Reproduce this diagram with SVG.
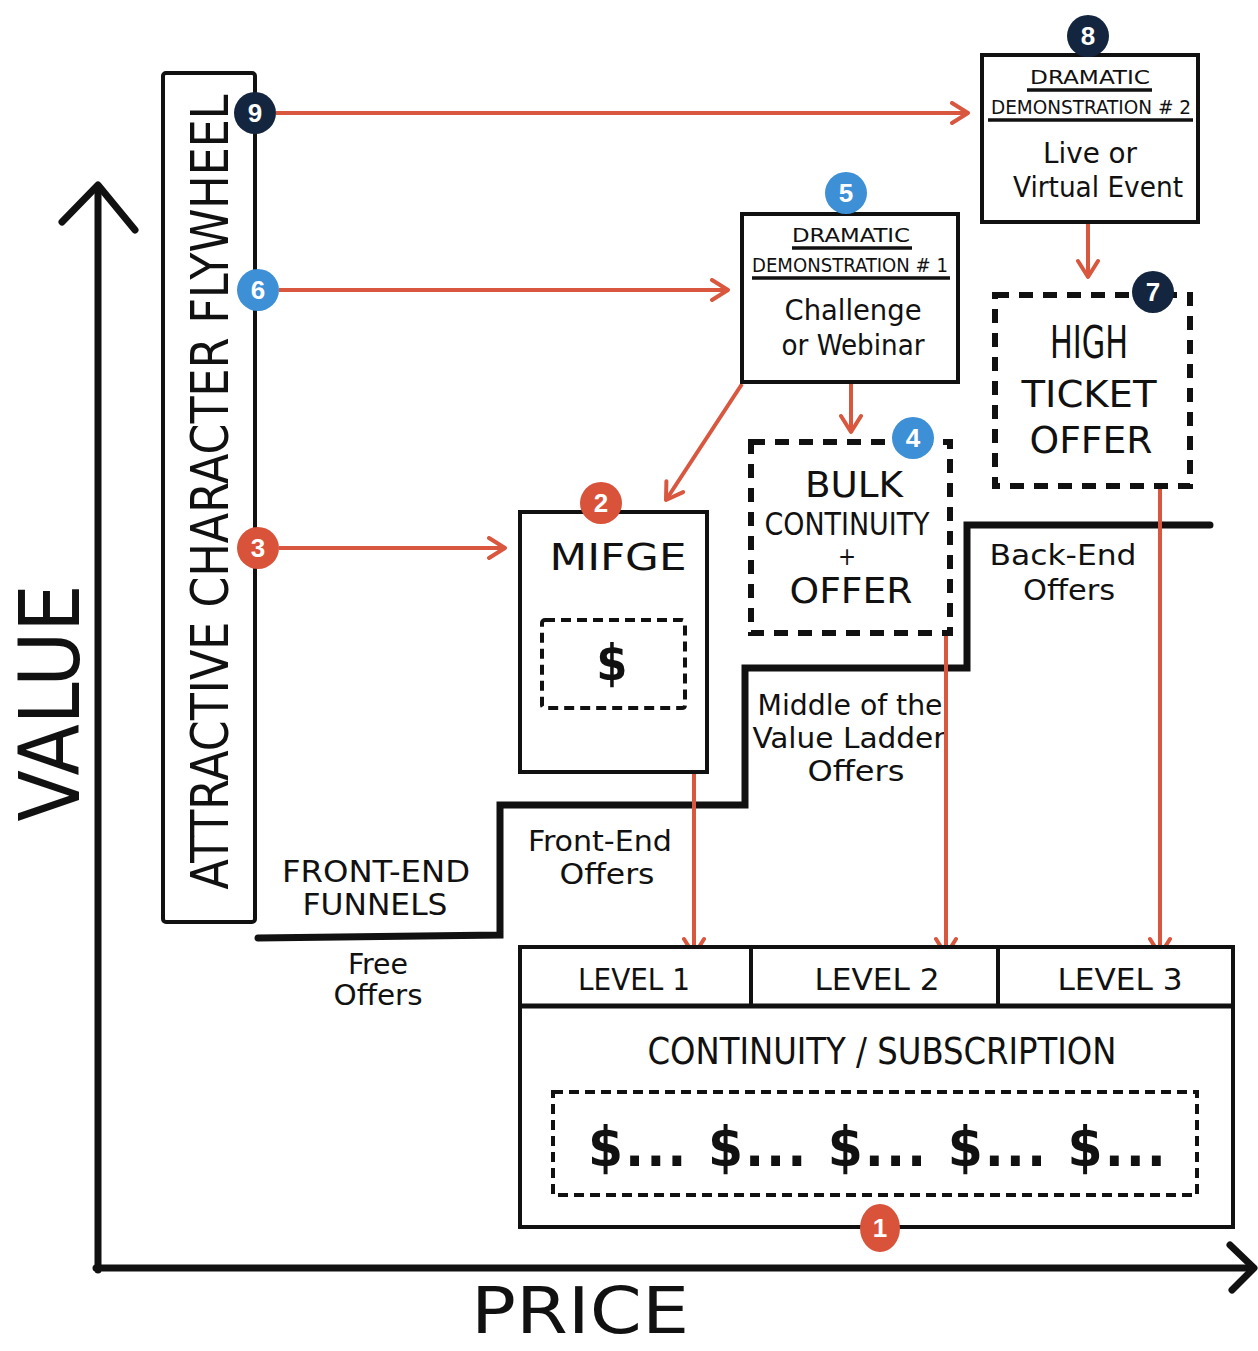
<svg xmlns="http://www.w3.org/2000/svg" width="1258" height="1351" viewBox="0 0 1258 1351">
  <defs>
    <style>
      .box { fill: #ffffff; stroke: #111111; stroke-width: 4; }
      .dash { fill: #ffffff; stroke: #111111; stroke-width: 6; stroke-dasharray: 14 10; }
      .dashsm { fill: none; stroke: #111111; stroke-width: 4; stroke-dasharray: 10 6; }
      .axis { fill: none; stroke: #111111; stroke-width: 7; stroke-linecap: round; stroke-linejoin: round; }
      .stair { fill: none; stroke: #111111; stroke-width: 7; stroke-linecap: round; stroke-linejoin: miter; }
      .link { fill: none; stroke: #d9573e; stroke-width: 4; marker-end: url(#chev); }
      .ul { stroke: #111111; stroke-width: 3.5; }
      .t { font-family: "Liberation Sans Narrow", "DejaVu Sans Condensed", "Liberation Sans", sans-serif; fill: #111111; text-anchor: middle; }
      .num { font-family: "Liberation Sans", sans-serif; font-size: 26px; font-weight: bold; fill: #ffffff; text-anchor: middle; }
      .red { fill: #d9533a; }
      .blue { fill: #3d8fd6; }
      .navy { fill: #14263f; }
    </style>
    <marker id="chev" viewBox="0 0 24 24" markerWidth="24" markerHeight="24" refX="20" refY="12" orient="auto" markerUnits="userSpaceOnUse">
      <path d="M4,2 L20,12 L4,22" fill="none" stroke="#d9573e" stroke-width="4" stroke-linecap="round" stroke-linejoin="round"/>
    </marker>
  </defs>
  <rect width="1258" height="1351" fill="#ffffff"/>

  <!-- axes -->
  <g id="axes">
    <path class="axis" d="M98,1270 L98,186"/>
    <path class="axis" d="M62,222 L98,185 L135,230"/>
    <path class="axis" d="M96,1268 L1253,1268"/>
    <path class="axis" d="M1230,1245 L1254,1268 L1232,1290"/>
    <text class="t" font-size="84" textLength="237" lengthAdjust="spacingAndGlyphs" transform="translate(49,703) rotate(-90)" y="30">VALUE</text>
    <text class="t" font-size="64" x="580" y="1333" textLength="218" lengthAdjust="spacingAndGlyphs">PRICE</text>
  </g>

  <!-- value ladder staircase and its labels -->
  <g id="ladder">
    <path class="stair" d="M258,938 L500,935 L500,805 L745,805 L745,668 L967,668 L967,525 L1210,525"/>
    <text class="t" font-size="30" x="376" y="882" textLength="188" lengthAdjust="spacingAndGlyphs">FRONT-END</text>
    <text class="t" font-size="30" x="375" y="915" textLength="145" lengthAdjust="spacingAndGlyphs">FUNNELS</text>
    <text class="t" font-size="29" x="378" y="974" textLength="60" lengthAdjust="spacingAndGlyphs">Free</text>
    <text class="t" font-size="29" x="378" y="1005" textLength="89" lengthAdjust="spacingAndGlyphs">Offers</text>
    <text class="t" font-size="29" x="600" y="851" textLength="144" lengthAdjust="spacingAndGlyphs">Front-End</text>
    <text class="t" font-size="29" x="607" y="884" textLength="95" lengthAdjust="spacingAndGlyphs">Offers</text>
    <text class="t" font-size="29" x="850" y="715" textLength="185" lengthAdjust="spacingAndGlyphs">Middle of the</text>
    <text class="t" font-size="29" x="849" y="748" textLength="193" lengthAdjust="spacingAndGlyphs">Value Ladder</text>
    <text class="t" font-size="29" x="856" y="781" textLength="97" lengthAdjust="spacingAndGlyphs">Offers</text>
    <text class="t" font-size="29" x="1063" y="565" textLength="147" lengthAdjust="spacingAndGlyphs">Back-End</text>
    <text class="t" font-size="29" x="1069" y="600" textLength="92" lengthAdjust="spacingAndGlyphs">Offers</text>
  </g>

  <!-- connectors -->
  <g id="connectors">
    <path class="link" d="M276,113 L968,113"/>
    <path class="link" d="M279,290 L728,290"/>
    <path class="link" d="M279,548 L505,548"/>
    <path class="link" d="M1088,224 L1088,277"/>
    <path class="link" d="M851,384 L851,432"/>
    <path class="link" d="M742,384 L666,500"/>
    <path class="link" d="M694,774 L694,955"/>
    <path class="link" d="M946,634 L946,955"/>
    <path class="link" d="M1160,489 L1160,955"/>
  </g>

  <!-- attractive character flywheel -->
  <g id="flywheel">
    <rect class="box" x="163" y="73" width="92" height="849" rx="3" stroke-width="5"/>
    <text class="t" font-size="52" textLength="795" lengthAdjust="spacingAndGlyphs" transform="translate(210,492) rotate(-90)" y="18">ATTRACTIVE CHARACTER FLYWHEEL</text>
  </g>

  <!-- 8: dramatic demonstration #2 -->
  <g id="demo2">
    <rect class="box" x="982" y="55" width="216" height="167"/>
    <text class="t" font-size="19" x="1090" y="84" textLength="120" lengthAdjust="spacingAndGlyphs">DRAMATIC</text>
    <line class="ul" x1="1027" y1="90" x2="1152" y2="90"/>
    <text class="t" font-size="19" x="1091" y="114" textLength="200" lengthAdjust="spacingAndGlyphs">DEMONSTRATION # 2</text>
    <line class="ul" x1="988" y1="120" x2="1193" y2="120"/>
    <text class="t" font-size="29" x="1090" y="163" textLength="94" lengthAdjust="spacingAndGlyphs">Live or</text>
    <text class="t" font-size="29" x="1098" y="197" textLength="170" lengthAdjust="spacingAndGlyphs">Virtual Event</text>
  </g>

  <!-- 5: dramatic demonstration #1 -->
  <g id="demo1">
    <rect class="box" x="742" y="214" width="216" height="168"/>
    <text class="t" font-size="19" x="851" y="242" textLength="118" lengthAdjust="spacingAndGlyphs">DRAMATIC</text>
    <line class="ul" x1="792" y1="248" x2="912" y2="248"/>
    <text class="t" font-size="19" x="850" y="272" textLength="196" lengthAdjust="spacingAndGlyphs">DEMONSTRATION # 1</text>
    <line class="ul" x1="752" y1="278" x2="950" y2="278"/>
    <text class="t" font-size="29" x="853" y="320" textLength="137" lengthAdjust="spacingAndGlyphs">Challenge</text>
    <text class="t" font-size="29" x="853" y="355" textLength="143" lengthAdjust="spacingAndGlyphs">or Webinar</text>
  </g>

  <!-- 7: high ticket offer -->
  <g id="highticket">
    <rect class="dash" x="995" y="295" width="195" height="191"/>
    <text class="t" font-size="44" x="1089" y="358" textLength="78" lengthAdjust="spacingAndGlyphs">HIGH</text>
    <text class="t" font-size="38" x="1089" y="407" textLength="135" lengthAdjust="spacingAndGlyphs">TICKET</text>
    <text class="t" font-size="38" x="1091" y="453" textLength="123" lengthAdjust="spacingAndGlyphs">OFFER</text>
  </g>

  <!-- 4: bulk continuity + offer -->
  <g id="bulk">
    <rect class="dash" x="751" y="442" width="199" height="191"/>
    <text class="t" font-size="36" x="854" y="497" textLength="98" lengthAdjust="spacingAndGlyphs">BULK</text>
    <text class="t" font-size="32" x="847" y="535" textLength="165" lengthAdjust="spacingAndGlyphs">CONTINUITY</text>
    <text class="t" font-size="24" x="847" y="565">+</text>
    <text class="t" font-size="36" x="851" y="603" textLength="123" lengthAdjust="spacingAndGlyphs">OFFER</text>
  </g>

  <!-- 2: MIFGE -->
  <g id="mifge">
    <rect class="box" x="520" y="512" width="187" height="260"/>
    <text class="t" font-size="38" x="618" y="570" textLength="137" lengthAdjust="spacingAndGlyphs">MIFGE</text>
    <rect class="dashsm" x="542" y="620" width="143" height="88" rx="3"/>
    <text class="t" font-size="50" font-weight="bold" x="612" y="680">$</text>
  </g>

  <!-- 1: continuity / subscription -->
  <g id="subscription">
    <rect class="box" x="520" y="947" width="713" height="280" stroke-width="5"/>
    <line x1="520" y1="1006" x2="1233" y2="1006" stroke="#111111" stroke-width="5"/>
    <line x1="751" y1="947" x2="751" y2="1006" stroke="#111111" stroke-width="4"/>
    <line x1="998" y1="947" x2="998" y2="1006" stroke="#111111" stroke-width="4"/>
    <text class="t" font-size="30" x="634" y="990" textLength="112" lengthAdjust="spacingAndGlyphs">LEVEL 1</text>
    <text class="t" font-size="30" x="877" y="990" textLength="125" lengthAdjust="spacingAndGlyphs">LEVEL 2</text>
    <text class="t" font-size="30" x="1120" y="990" textLength="125" lengthAdjust="spacingAndGlyphs">LEVEL 3</text>
    <text class="t" font-size="38" x="882" y="1064" textLength="469" lengthAdjust="spacingAndGlyphs">CONTINUITY / SUBSCRIPTION</text>
    <rect class="dashsm" x="553" y="1092" width="644" height="103" stroke-dasharray="13 8"/>
    <text class="t" font-size="56" font-weight="bold" x="877" y="1166" textLength="578" lengthAdjust="spacing">$... $... $... $... $...</text>
  </g>

  <!-- numbered step markers -->
  <g id="markers">
    <circle class="navy" cx="255" cy="113" r="21"/><text class="num" x="255" y="122">9</text>
    <circle class="blue" cx="258" cy="290" r="21"/><text class="num" x="258" y="299">6</text>
    <circle class="red" cx="258" cy="548" r="21"/><text class="num" x="258" y="557">3</text>
    <circle class="navy" cx="1088" cy="36" r="21"/><text class="num" x="1088" y="45">8</text>
    <circle class="blue" cx="846" cy="193" r="21"/><text class="num" x="846" y="202">5</text>
    <circle class="navy" cx="1153" cy="292" r="21"/><text class="num" x="1153" y="301">7</text>
    <circle class="blue" cx="913" cy="438" r="21"/><text class="num" x="913" y="447">4</text>
    <circle class="red" cx="601" cy="503" r="21"/><text class="num" x="601" y="512">2</text>
    <ellipse class="red" cx="880" cy="1228" rx="20" ry="24"/><text class="num" x="880" y="1237">1</text>
  </g>
</svg>
